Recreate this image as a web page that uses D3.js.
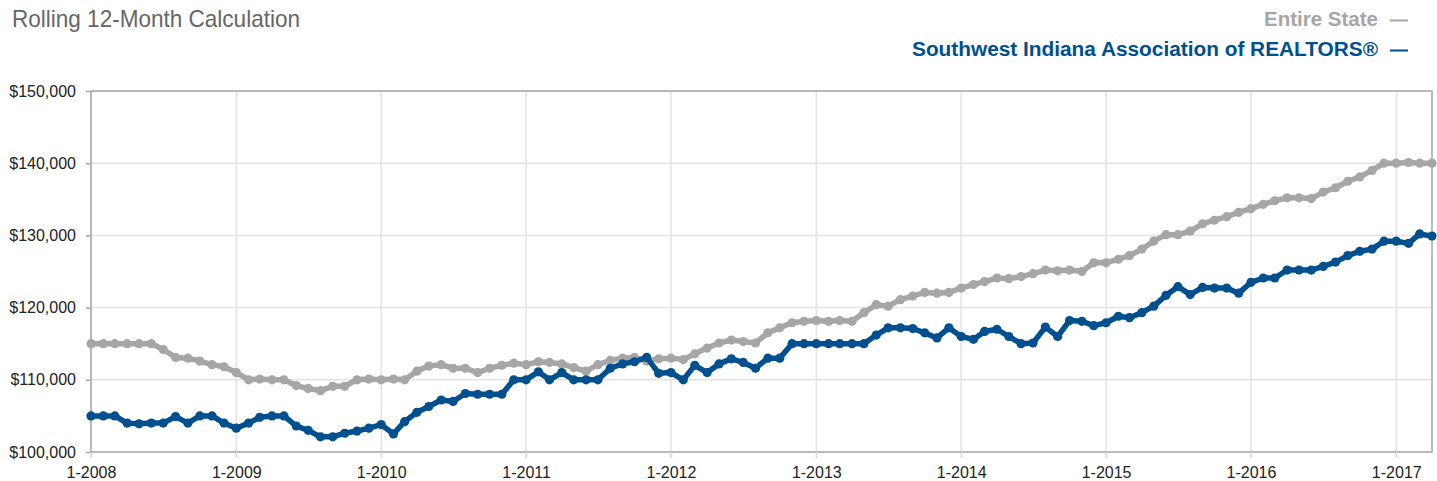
<!DOCTYPE html>
<html>

<head>
    <title>Rolling 12-Month Calculation</title>
    <script src="https://d3js.org/d3.v7.min.js"></script>
    <style>
        body {
            margin: 0;
            padding: 0;
            background: #fff;
            overflow: hidden;
        }

        svg text {
            font-family: "Liberation Sans", Arial, Helvetica, sans-serif;
        }
    </style>
</head>

<body>
    <script>
        var width = 1437,
            height = 481;

        // months from 1-2008 to 4-2017
        var months = d3.timeMonth.range(new Date(2008, 0, 1), new Date(2017, 4, 1));

        // values in $1000s
        var stateValues = [
            115, 115, 115, 115, 115, 115, 114.2, 113.1, 113.0, 112.6, 112.1, 111.8,
            111.0, 110.0, 110.1, 110.0, 110.0, 109.2, 108.8, 108.5, 109.1, 109.1, 110.0, 110.1,
            110.0, 110.1, 110.0, 111.2, 111.9, 112.1, 111.6, 111.6, 111.0, 111.6, 112.0, 112.3,
            112.1, 112.5, 112.4, 112.2, 111.7, 111.2, 112.1, 112.7, 113.0, 113.1, 112.6, 112.9,
            113.0, 112.8, 113.6, 114.4, 115.1, 115.5, 115.3, 115.1, 116.5, 117.2, 117.9, 118.1,
            118.2, 118.1, 118.2, 118.1, 119.3, 120.4, 120.2, 121.1, 121.6, 122.1, 122.0, 122.1,
            122.7, 123.2, 123.6, 124.1, 124.0, 124.3, 124.7, 125.2, 125.1, 125.2, 125.0, 126.2,
            126.2, 126.7, 127.2, 128.1, 129.2, 130.1, 130.1, 130.6, 131.6, 132.1, 132.6, 133.2,
            133.7, 134.3, 134.8, 135.2, 135.2, 135.1, 136.0, 136.6, 137.5, 138.1, 139.0, 140.0,
            140.0, 140.1, 140.0, 140.0
        ];
        var swiValues = [
            105, 105, 105, 104, 103.9, 104, 104, 104.9, 104, 105, 105, 104,
            103.3, 104, 104.8, 105, 105, 103.6, 103.0, 102.1, 102.1, 102.6, 102.9, 103.3,
            103.8, 102.5, 104.2, 105.5, 106.3, 107.2, 107.0, 108.1, 108.0, 108.0, 108.0, 110.0,
            110.0, 111.1, 110.0, 111.0, 110.0, 110.0, 110.0, 111.6, 112.2, 112.5, 113.1, 110.9,
            111.0, 110.0, 112.0, 111.0, 112.2, 112.9, 112.4, 111.6, 113.0, 113.0, 115.0, 115.0,
            115.0, 115.0, 115.0, 115.0, 115.0, 116.2, 117.2, 117.2, 117.1, 116.5, 115.8, 117.2,
            116.0, 115.6, 116.7, 117.0, 116.0, 115.0, 115.1, 117.3, 116.0, 118.2, 118.1, 117.5,
            117.9, 118.8, 118.6, 119.3, 120.2, 121.7, 122.9, 121.8, 122.8, 122.7, 122.7, 122.0,
            123.5, 124.1, 124.1, 125.2, 125.2, 125.2, 125.7, 126.3, 127.2, 127.8, 128.1, 129.2,
            129.2, 128.9, 130.2, 129.9
        ];
        var seriesNames = ["Entire State", "Southwest Indiana Association of REALTORS®"];
        var seriesColors = ["#a6a6a6", "#004f8f"];
        var legendWidths = [114, 466];
        var yTicks = [100000, 110000, 120000, 130000, 140000, 150000];

        var series = [stateValues, swiValues].map((vals, k) => ({
            name: seriesNames[k],
            color: seriesColors[k],
            points: vals.map((v, i) => ({ date: months[i], value: v * 1000 }))
        }));

        var margin = { left: 91, right: 5, top: 91, bottom: 29 };

        var x = d3.scaleTime()
            .domain([months[0], months[months.length - 1]])
            .range([margin.left, width - margin.right]);
        var y = d3.scaleLinear()
            .domain([100000, 150000])
            .range([height - margin.bottom, margin.top]);

        var svg = d3.select("body").append("svg")
            .attr("width", width)
            .attr("height", height);

        // title
        svg.append("text")
            .attr("x", 12)
            .attr("y", 27)
            .attr("fill", "#666")
            .style("font-family", "'Liberation Sans Narrow', 'Arial Narrow', sans-serif")
            .style("font-size", "24px")
            .attr("textLength", 288)
            .attr("lengthAdjust", "spacingAndGlyphs")
            .text("Rolling 12-Month Calculation");

        // legend
        var legend = svg.append("g");
        series.forEach((s, k) => {
            var ly = 26 + k * 30;
            legend.append("text")
                .attr("x", 1378)
                .attr("y", ly)
                .attr("text-anchor", "end")
                .attr("fill", s.color)
                .style("font-weight", "bold")
                .style("font-size", "20px")
                .attr("textLength", legendWidths[k])
                .attr("lengthAdjust", "spacingAndGlyphs")
                .text(s.name);
            legend.append("line")
                .attr("x1", 1390).attr("x2", 1408)
                .attr("y1", ly - 5.5).attr("y2", ly - 5.5)
                .attr("stroke", s.color)
                .attr("stroke-width", 2);
        });

        // grid
        var grid = svg.append("g");
        grid.selectAll(".hgrid")
            .data(yTicks)
            .join("line")
            .attr("x1", margin.left).attr("x2", width - margin.right)
            .attr("y1", d => y(d)).attr("y2", d => y(d))
            .attr("stroke", "#e3e3e3")
            .attr("stroke-width", 1.5);
        var yearTicks = d3.timeYear.range(new Date(2008, 0, 1), new Date(2017, 4, 1));
        grid.selectAll(".vgrid")
            .data(yearTicks)
            .join("line")
            .attr("x1", d => x(d)).attr("x2", d => x(d))
            .attr("y1", margin.top).attr("y2", height - margin.bottom + 6)
            .attr("stroke", "#e3e3e3")
            .attr("stroke-width", 1.5);

        // frame
        svg.append("rect")
            .attr("x", margin.left)
            .attr("y", margin.top)
            .attr("width", width - margin.right - margin.left)
            .attr("height", height - margin.bottom - margin.top)
            .attr("fill", "none")
            .attr("stroke", "#a8a8a8")
            .attr("stroke-width", 1.5);

        // axes
        var yAxis = svg.append("g")
            .attr("transform", "translate(" + margin.left + ",0)")
            .call(d3.axisLeft(y).tickValues(yTicks).tickSize(5).tickPadding(10)
                .tickFormat(d => "$" + d3.format(",")(d)));
        var xAxis = svg.append("g")
            .attr("transform", "translate(0," + (height - margin.bottom) + ")")
            .call(d3.axisBottom(x).tickValues(yearTicks).tickSize(6).tickPadding(9)
                .tickFormat(d3.timeFormat("%-m-%Y")));
        [yAxis, xAxis].forEach(a => {
            a.select(".domain").remove();
            a.selectAll(".tick line").attr("stroke", "#a8a8a8").attr("stroke-width", 1.5);
            a.selectAll(".tick text")
                .attr("fill", "#222")
                .style("font-family", "'Liberation Sans', Arial, sans-serif")
                .style("font-size", "16px");
        });
        xAxis.selectAll(".tick line").attr("stroke", "#dcdcdc");

        // lines
        var line = d3.line()
            .x(d => x(d.date))
            .y(d => y(d.value));

        var lines = svg.append("g");
        series.forEach(s => {
            var g = lines.append("g");
            g.append("path")
                .datum(s.points)
                .attr("fill", "none")
                .attr("stroke", s.color)
                .attr("stroke-width", 5.5)
                .attr("stroke-linejoin", "round")
                .attr("d", line);
            g.selectAll("circle")
                .data(s.points)
                .join("circle")
                .attr("cx", d => x(d.date))
                .attr("cy", d => y(d.value))
                .attr("r", 4.6)
                .attr("fill", s.color);
        });
    </script>
</body>

</html>
